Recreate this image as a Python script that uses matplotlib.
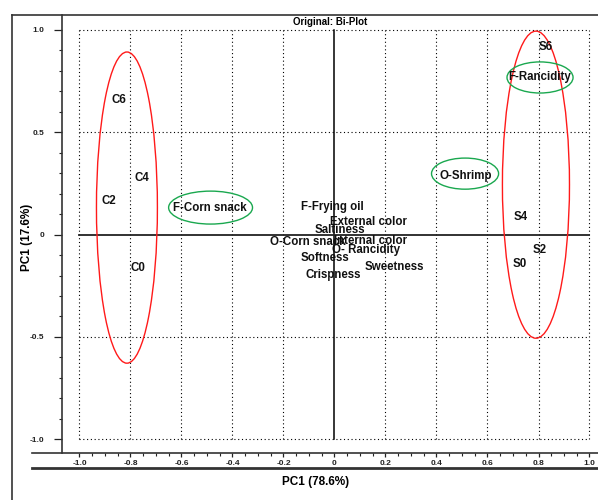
import matplotlib
matplotlib.use("Agg")
import matplotlib.pyplot as plt
from matplotlib.patches import Ellipse
from matplotlib.lines import Line2D
import numpy as np

plt.rcParams['font.family'] = ['Liberation Sans', 'DejaVu Sans']

# ---- data ----
sample_labels = ["C6", "C4", "C2", "C0", "S6", "S4", "S2", "S0"]
sample_x = [-0.847, -0.757, -0.886, -0.769, 0.827, 0.729, 0.804, 0.725]
sample_y = [0.658, 0.276, 0.164, -0.164, 0.917, 0.086, -0.075, -0.144]

attr_labels = ["F-Corn snack", "F-Rancidity", "O-Shrimp", "F-Frying oil", "External color",
               "Saltiness", "O-Corn snack", "Internal color", "O- Rancidity", "Softness",
               "Sweetness", "Crispness"]
attr_x = [-0.488, 0.806, 0.514, -0.010, 0.133, 0.020, -0.106, 0.141, 0.122, -0.039, 0.235, -0.006]
attr_y = [0.130, 0.770, 0.286, 0.136, 0.063, 0.022, -0.035, -0.030, -0.076, -0.116, -0.157, -0.198]

# groups circled (center x, center y, width, height)
group_cx = [-0.814, 0.790]
group_cy = [0.132, 0.244]
group_w = [0.239, 0.263]
group_h = [1.521, 1.501]

# attributes circled
circ_cx = [-0.486, 0.806, 0.512]
circ_cy = [0.132, 0.768, 0.298]
circ_w = [0.329, 0.259, 0.263]
circ_h = [0.161, 0.152, 0.152]

x_ticks = [-1.0, -0.8, -0.6, -0.4, -0.2, 0.0, 0.2, 0.4, 0.6, 0.8, 1.0]
x_ticklabels = ["-1.0", "-0.8", "-0.6", "-0.4", "-0.2", "0", "0.2", "0.4", "0.6", "0.8", "1.0"]
y_ticks = [-1.0, -0.5, 0.0, 0.5, 1.0]
y_ticklabels = ["-1.0", "-0.5", "0", "0.5", "1.0"]

title = "Original: Bi-Plot"
xlabel = "PC1 (78.6%)"
ylabel = "PC1 (17.6%)"

# ---- figure ----
W, H = 598, 500
fig = plt.figure(figsize=(W / 100, H / 100), dpi=100)

def fx(px):
    return px / W

def fy(py):
    return 1 - py / H

x0_px, xu = 334.5, 255.0
y0_px, yu = 234.6, 204.6
ax_left, ax_right, ax_top, ax_bot = 62, 598, 15, 453
ax = fig.add_axes([fx(ax_left), fy(ax_bot), (ax_right - ax_left) / W, (ax_bot - ax_top) / H])
ax.set_xlim((ax_left - x0_px) / xu, (ax_right - x0_px) / xu)
ax.set_ylim((y0_px - ax_bot) / yu, (y0_px - ax_top) / yu)
ax.patch.set_alpha(0)

for s in ["top", "right"]:
    ax.spines[s].set_visible(False)
ax.spines["left"].set_linewidth(1.2)
ax.spines["left"].set_color("#333333")
ax.spines["bottom"].set_visible(False)

# ticks
ax.set_yticks(y_ticks)
ax.set_yticklabels(y_ticklabels)
ax.set_yticks(np.round(np.arange(-1.0, 1.01, 0.1), 2), minor=True)
ax.set_xticks(x_ticks)
ax.set_xticklabels(x_ticklabels)
ax.set_xticks(np.round(np.arange(-1.0, 1.01, 0.05), 3), minor=True)
ax.tick_params(axis="y", which="major", length=6, width=0.9, direction="out", pad=7,
               labelsize=6, colors="#222222")
ax.tick_params(axis="y", which="minor", length=2.5, width=0.8, direction="out", colors="#222222")
ax.tick_params(axis="x", which="major", length=3, width=0.9, direction="out", pad=2,
               labelsize=6, colors="#222222")
ax.tick_params(axis="x", which="minor", length=1.8, width=0.8, direction="out", colors="#222222")
for lab in ax.get_xticklabels() + ax.get_yticklabels():
    lab.set_fontweight("bold")

# grid (dotted), zero lines solid
dot = (0, (1, 2.4))
for xv in x_ticks:
    if xv == 0:
        ax.plot([0, 0], [-1, 1], color="black", lw=1.1, zorder=2)
    else:
        ax.plot([xv, xv], [-1, 1], color="black", lw=0.8, ls=dot, zorder=1)
for yv in y_ticks:
    if yv == 0:
        ax.plot([-1, 1], [0, 0], color="#222222", lw=1.3, zorder=2)
    else:
        ax.plot([-1, 1], [yv, yv], color="black", lw=0.8, ls=dot, zorder=1)

# ellipses
for cx, cy, w, h in zip(group_cx, group_cy, group_w, group_h):
    ax.add_patch(Ellipse((cx, cy), w, h, fill=False, edgecolor="#ff1a1a", lw=1.0, zorder=3))
for cx, cy, w, h in zip(circ_cx, circ_cy, circ_w, circ_h):
    ax.add_patch(Ellipse((cx, cy), w, h, fill=False, edgecolor="#1aa84f", lw=1.0, zorder=3))

# labels
for t, x, y in zip(sample_labels, sample_x, sample_y):
    ax.text(x, y, t, ha="center", va="center", fontsize=8.3, fontweight="bold", color="#111111", zorder=4)
for t, x, y in zip(attr_labels, attr_x, attr_y):
    ax.text(x, y, t, ha="center", va="center", fontsize=8.3, fontweight="bold", color="#111111", zorder=4)

# frame lines around (figure-level)
def hline(py, px1, px2, lw, color="#333333"):
    fig.add_artist(Line2D([fx(px1), fx(px2)], [fy(py), fy(py)], transform=fig.transFigure,
                          color=color, lw=lw))

def vline(px, py1, py2, lw, color="#333333"):
    fig.add_artist(Line2D([fx(px), fx(px)], [fy(py1), fy(py2)], transform=fig.transFigure,
                          color=color, lw=lw))

hline(15, 12, 598, 1.2)
vline(12, 15, 500, 1.2)
hline(453, 32, 598, 1.2)
hline(468, 32, 598, 2.0)

fig.text(fx(330), fy(22), title, ha="center", va="center", fontsize=7, fontweight="bold")
fig.text(fx(316), fy(482), xlabel, ha="center", va="center", fontsize=8.5, fontweight="bold")
fig.text(fx(27), fy(237), ylabel, ha="center", va="center", fontsize=8.5, fontweight="bold",
         rotation=90)

fig.savefig("out.png", dpi=100)
